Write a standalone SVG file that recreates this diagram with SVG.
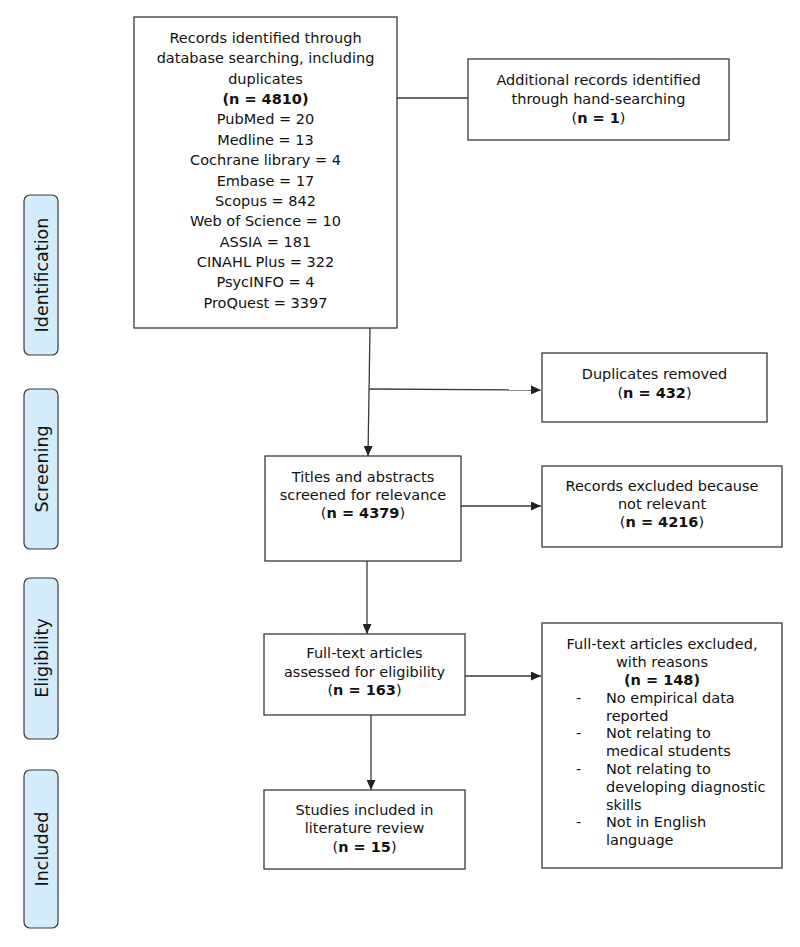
<svg xmlns="http://www.w3.org/2000/svg" width="800" height="947" viewBox="0 0 800 947">
<style>
.box{fill:#fff;stroke:#3a3a3a;stroke-width:1.3}
.phase{fill:#d3ecfb;stroke:#3a3a3a;stroke-width:1.2}
.t{font-family:"DejaVu Sans",Verdana,sans-serif;font-size:14.5px;fill:#111;text-anchor:middle}
.l{font-family:"DejaVu Sans",Verdana,sans-serif;font-size:14.5px;fill:#111}
.p{font-family:"DejaVu Sans",Verdana,sans-serif;font-size:17.5px;fill:#111;text-anchor:middle}
.b{font-weight:bold}
.c{fill:none;stroke:#3a3a3a;stroke-width:1.3}
</style>
<defs>
<marker id="ah" markerUnits="userSpaceOnUse" markerWidth="10" markerHeight="9" refX="10" refY="4.5" orient="auto">
<path d="M0,0 L10,4.5 L0,9 z" fill="#222"/>
</marker>
</defs>
<rect width="800" height="947" fill="#fff"/>

<g id="phase-identification"><rect class="phase" x="24" y="195" width="34" height="160" rx="6"/><text class="p" transform="translate(47.5,275) rotate(-90)">Identification</text></g>
<g id="phase-screening"><rect class="phase" x="24" y="389" width="34" height="160" rx="6"/><text class="p" transform="translate(47.5,469) rotate(-90)">Screening</text></g>
<g id="phase-eligibility"><rect class="phase" x="24" y="578" width="34" height="161" rx="6"/><text class="p" transform="translate(47.5,658) rotate(-90)">Eligibility</text></g>
<g id="phase-included"><rect class="phase" x="24" y="770" width="34" height="158" rx="6"/><text class="p" transform="translate(47.5,849) rotate(-90)">Included</text></g>

<g id="connectors">
<line class="c" x1="397" y1="98" x2="468" y2="98"/>
<line class="c" x1="370" y1="328" x2="368" y2="456" marker-end="url(#ah)"/>
<line class="c" x1="369" y1="389" x2="541" y2="390" marker-end="url(#ah)"/>
<line class="c" x1="461" y1="506" x2="541" y2="506" marker-end="url(#ah)"/>
<line class="c" x1="367" y1="561" x2="367" y2="634" marker-end="url(#ah)"/>
<line class="c" x1="465" y1="676" x2="541" y2="676" marker-end="url(#ah)"/>
<line class="c" x1="371" y1="715" x2="371" y2="790" marker-end="url(#ah)"/>
</g>

<g id="records-identified">
<rect class="box" x="134" y="17" width="263" height="311"/>
<text class="t" x="265.5" y="43">Records identified through</text>
<text class="t" x="265.5" y="63.4">database searching, including</text>
<text class="t" x="265.5" y="83.7">duplicates</text>
<text class="t b" x="265.5" y="104.1">(n = 4810)</text>
<text class="t" x="265.5" y="124.4">PubMed = 20</text>
<text class="t" x="265.5" y="144.8">Medline = 13</text>
<text class="t" x="265.5" y="165.2">Cochrane library = 4</text>
<text class="t" x="265.5" y="185.5">Embase = 17</text>
<text class="t" x="265.5" y="205.9">Scopus = 842</text>
<text class="t" x="265.5" y="226.2">Web of Science = 10</text>
<text class="t" x="265.5" y="246.6">ASSIA = 181</text>
<text class="t" x="265.5" y="267">CINAHL Plus = 322</text>
<text class="t" x="265.5" y="287.3">PsycINFO = 4</text>
<text class="t" x="265.5" y="307.7">ProQuest = 3397</text>
</g>

<g id="additional-records">
<rect class="box" x="468" y="59" width="261" height="81"/>
<text class="t" x="598.5" y="85">Additional records identified</text>
<text class="t" x="598.5" y="104">through hand-searching</text>
<text class="t" x="598.5" y="123">(<tspan class="b">n = 1</tspan>)</text>
</g>

<g id="duplicates-removed">
<rect class="box" x="542" y="353" width="225" height="69"/>
<text class="t" x="654.5" y="379">Duplicates removed</text>
<text class="t" x="654.5" y="398">(<tspan class="b">n = 432</tspan>)</text>
</g>

<g id="titles-abstracts">
<rect class="box" x="265" y="456" width="196" height="105"/>
<text class="t" x="363" y="482">Titles and abstracts</text>
<text class="t" x="363" y="500">screened for relevance</text>
<text class="t" x="363" y="518">(<tspan class="b">n = 4379</tspan>)</text>
</g>

<g id="records-excluded">
<rect class="box" x="542" y="466" width="240" height="81"/>
<text class="t" x="662" y="491">Records excluded because</text>
<text class="t" x="662" y="509">not relevant</text>
<text class="t" x="662" y="527">(<tspan class="b">n = 4216</tspan>)</text>
</g>

<g id="full-text-assessed">
<rect class="box" x="264" y="634" width="201" height="81"/>
<text class="t" x="364.5" y="658">Full-text articles</text>
<text class="t" x="364.5" y="677">assessed for eligibility</text>
<text class="t" x="364.5" y="695">(<tspan class="b">n = 163</tspan>)</text>
</g>

<g id="full-text-excluded">
<rect class="box" x="542" y="623" width="240" height="245"/>
<text class="t" x="662" y="649">Full-text articles excluded,</text>
<text class="t" x="662" y="667">with reasons</text>
<text class="t b" x="662" y="685">(n = 148)</text>
<text class="l" x="576" y="703">-</text><text class="l" x="606" y="703">No empirical data</text>
<text class="l" x="606" y="720.5">reported</text>
<text class="l" x="576" y="738">-</text><text class="l" x="606" y="738">Not relating to</text>
<text class="l" x="606" y="756">medical students</text>
<text class="l" x="576" y="774">-</text><text class="l" x="606" y="774">Not relating to</text>
<text class="l" x="606" y="792">developing diagnostic</text>
<text class="l" x="606" y="809.5">skills</text>
<text class="l" x="576" y="827">-</text><text class="l" x="606" y="827">Not in English</text>
<text class="l" x="606" y="845">language</text>
</g>

<g id="studies-included">
<rect class="box" x="264" y="790" width="201" height="79"/>
<text class="t" x="364.5" y="815">Studies included in</text>
<text class="t" x="364.5" y="833">literature review</text>
<text class="t" x="364.5" y="852">(<tspan class="b">n = 15</tspan>)</text>
</g>
</svg>
